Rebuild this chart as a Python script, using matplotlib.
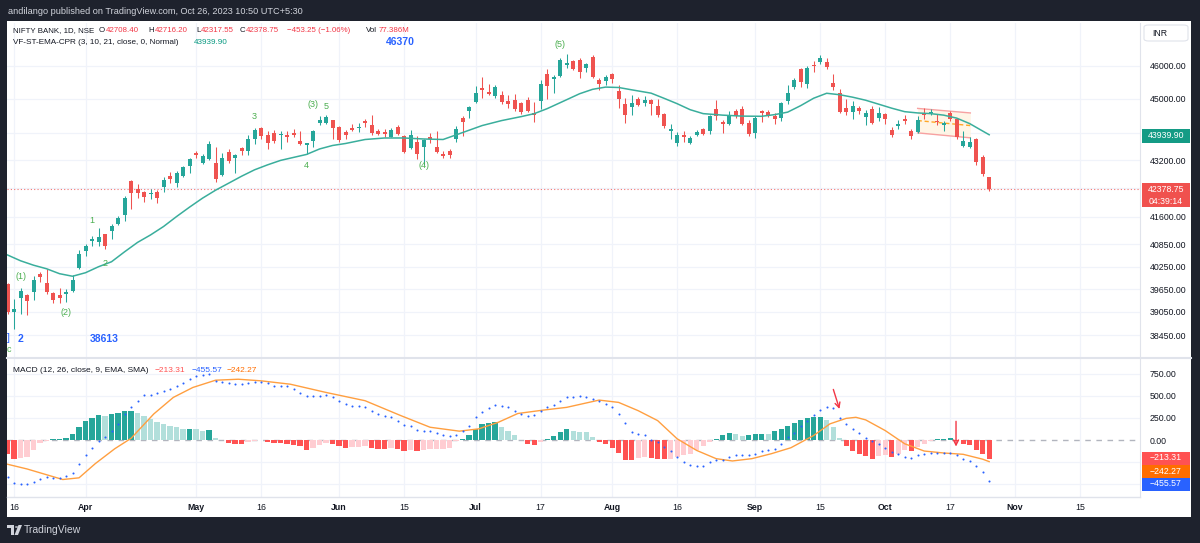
import matplotlib
matplotlib.use("Agg")
import matplotlib.pyplot as plt
from matplotlib.patches import Rectangle, FancyBboxPatch, Circle, Polygon
import numpy as np

plt.rcParams['font.family'] = ['Liberation Sans', 'DejaVu Sans']

# ---- daily candles, NIFTY BANK, 15 Mar 2023 .. 26 Oct 2023 ----
opens = [39790, 39050, 39418, 39504, 39575, 40057, 39819, 39557, 39487, 39530,
         39590, 40208, 40680, 40950, 40923, 41122, 41214, 41396, 41653, 42610,
         42394, 42283, 42228, 42283, 42450, 42750, 42544, 42752, 43035, 43397,
         43130, 43225, 43111, 42780, 43435, 43273, 43540, 43454, 43801, 44140,
         43946, 43995, 43918, 43926, 43995, 43753, 43627, 43753, 44297, 44297,
         44365, 44170, 44014, 44130, 44130, 44356, 44238, 44053, 44033, 43880,
         44170, 43898, 43560, 43734, 43590, 43880, 43580, 43388, 43464, 43801,
         44434, 44630, 44917, 45314, 45197, 45076, 45126, 44946, 44976, 44877,
         44976, 44582, 44926, 45758, 45616, 45697, 46040, 46163, 46184, 45950,
         46286, 45575, 45545, 45748, 45228, 44858, 44749, 44997, 44877, 44976,
         44799, 44562, 44063, 43705, 43926, 43705, 43946, 44121, 44063, 44709,
         44306, 44267, 44650, 44700, 44297, 43995, 44630, 44611, 44502, 44434,
         44946, 45344, 45908, 45449, 46030, 46112, 46112, 45494, 45179, 44729,
         44611, 44729, 44453, 44700, 44434, 44562, 44092, 44209, 44395, 44063,
         44014, 44582, 44572, 44346, 44219, 44582, 44414, 43608, 43580, 43830,
         43300, 42708.40]
highs = [39820, 39400, 39690, 39530, 39996, 40090, 40190, 39583, 39688, 39643,
         40013, 40690, 40860, 41086, 41287, 41130, 41415, 41616, 42188, 42630,
         42525, 42320, 42375, 42347, 42733, 42875, 42884, 43035, 43273, 43475,
         43368, 43743, 43590, 43417, 43532, 43368, 43590, 43918, 44140, 44165,
         44043, 44092, 44043, 44043, 44112, 44043, 43705, 44092, 44502, 44532,
         44385, 44190, 44092, 44267, 44297, 44395, 44512, 44112, 44112, 44130,
         44238, 43918, 44072, 43898, 43801, 44000, 44043, 43464, 43512, 44190,
         44502, 44797, 45375, 45657, 45449, 45425, 45228, 45126, 45147, 44917,
         45056, 44917, 45556, 45900, 45727, 46236, 46370, 46184, 46236, 46082,
         46338, 45630, 45727, 45778, 45405, 45027, 45126, 45047, 45097, 44997,
         44997, 44591, 44267, 44024, 44063, 43898, 44092, 44150, 44532, 44976,
         44385, 44630, 44700, 44779, 44385, 44483, 44660, 44670, 44582, 44907,
         45405, 45646, 45930, 46010, 46163, 46338, 46255, 45748, 45304, 45007,
         44946, 44779, 44679, 44779, 44769, 44591, 44160, 44385, 44512, 44121,
         44483, 44729, 44700, 44542, 44356, 44630, 44434, 44063, 43868, 43850,
         43349, 42716.20]
lows = [38990, 38613, 38985, 38960, 39356, 39838, 39530, 39296, 39296, 39314,
        39583, 40190, 40545, 40800, 40800, 40725, 40996, 41378, 41495, 41818,
        42115, 42020, 42096, 41977, 42283, 42563, 42440, 42733, 42827, 43273,
        43082, 43205, 42582, 42752, 43130, 42827, 43340, 43340, 43656, 43801,
        43512, 43685, 43532, 43723, 43880, 43627, 43368, 43590, 44238, 44248,
        43820, 43723, 43820, 44043, 44014, 44170, 43937, 43918, 43880, 43860,
        43946, 43397, 43512, 43244, 43062, 43705, 43397, 43273, 43273, 43723,
        43898, 44434, 44877, 45027, 45126, 45027, 44858, 44729, 44630, 44562,
        44601, 44316, 44700, 44997, 45179, 45676, 45930, 45878, 45630, 45809,
        45630, 45274, 45405, 45474, 44729, 44297, 44512, 44779, 44779, 44532,
        44453, 44140, 43801, 43608, 43734, 43656, 43898, 43926, 43966, 44385,
        43995, 44219, 44434, 44219, 43898, 43850, 44316, 44453, 44248, 44356,
        44849, 45304, 45344, 45324, 45827, 46051, 45908, 45274, 44582, 44512,
        44414, 44542, 44219, 44258, 44356, 44267, 43868, 44121, 44267, 43801,
        43995, 44414, 44512, 44219, 44063, 44336, 43830, 43580, 43560, 43062,
        42752, 42317.55]
closes = [39050, 39120, 39590, 39348, 39880, 39983, 39575, 39366, 39418, 39575,
          39898, 40600, 40815, 40996, 41042, 40815, 41360, 41560, 42130, 42255,
          42255, 42143, 42263, 42115, 42630, 42676, 42846, 43006, 43225, 43340,
          43320, 43676, 42657, 43273, 43177, 43340, 43464, 43801, 44092, 43898,
          43705, 43753, 43976, 43880, 43937, 43656, 43685, 44043, 44365, 44463,
          44140, 43782, 43937, 44092, 44170, 44297, 43995, 43976, 43956, 44092,
          43976, 43435, 43926, 43368, 43772, 43820, 43435, 43320, 43349, 44121,
          44317, 44760, 45179, 45274, 45149, 45344, 44897, 44849, 44700, 44601,
          44630, 44532, 45447, 45395, 45676, 46184, 46082, 45900, 45827, 46061,
          45676, 45454, 45676, 45596, 44997, 44512, 44877, 44828, 44976, 44858,
          44532, 44190, 44092, 43946, 43888, 43850, 44014, 43966, 44483, 44483,
          44248, 44512, 44502, 44248, 43966, 44434, 44572, 44512, 44400, 44877,
          45179, 45585, 45524, 45930, 45990, 46236, 45959, 45344, 44611, 44611,
          44779, 44630, 44582, 44277, 44582, 44405, 43946, 44267, 44356, 43898,
          44365, 44512, 44611, 44306, 44287, 44414, 43868, 43753, 43734, 43159,
          42799, 42378.75]

# 21 EMA of the VF-ST-EMA-CPR study (read at these bars)
ema_idx = [0, 2, 4, 6, 8, 10, 12, 14, 16, 18, 20, 22, 24, 26, 28, 30, 32, 34, 36,
           38, 40, 42, 44, 46, 48, 50, 52, 55, 58, 61, 64, 67, 70, 73, 76, 79,
           81, 83, 86, 88, 90, 92, 94, 96, 99, 101, 103, 105, 107, 110, 113, 116,
           118, 120, 122, 124, 126, 128, 130, 132, 134, 136, 138, 140, 142, 144,
           146, 148, 150, 151]
ema_val = [40560, 40404, 40285, 40190, 40058, 39990, 40084, 40244, 40378, 40645,
           40901, 41105, 41336, 41611, 41873, 42124, 42347, 42544, 42743, 42926,
           43068, 43196, 43282, 43368, 43526, 43627, 43685, 43801, 43845, 43845,
           43816, 43801, 44004, 44209, 44356, 44473, 44560, 44709, 44976, 45156,
           45289, 45356, 45344, 45274, 45173, 45018, 44858, 44679, 44562, 44517,
           44488, 44483, 44532, 44606, 44799, 45021, 45170, 45126, 45052, 44961,
           44843, 44724, 44620, 44582, 44562, 44517, 44429, 44267, 44048, 43939.90]

# wave counts drawn by the study
wave_idx = [2, 9, 13, 15, 38, 46, 47, 49, 64, 85]
wave_price = [39970, 39037, 41506, 40324, 44483, 43054, 44828, 44779, 43062, 46646]
wave_text = ['(1)', '(2)', '1', '2', '3', '4', '(3)', '5', '(4)', '(5)']

# channel drawn on the chart (bar index, price)
chan_x = [140, 148.1]
chan_upper = [44717, 44582]
chan_mid = [44356, 44209]
chan_lower = [43995, 43850]

# MACD (12, 26, 9)
macd_hist = [-153, -213, -198, -190, -116, -34, -10, 7, 15, 26,
             71, 153, 213, 250, 283, 276, 295, 300, 325, 332,
             306, 276, 239, 201, 183, 164, 145, 127, 130, 127,
             108, 116, 26, 4, -34, -41, -48, -26, -11, -4,
             -22, -30, -34, -41, -56, -71, -108, -86, -60, -34,
             -41, -67, -86, -78, -75, -71, -86, -97, -104, -86,
             -97, -123, -108, -127, -108, -100, -97, -95, -86, -11,
             11, 63, 127, 183, 194, 201, 153, 108, 52, 4,
             -41, -60, -22, 7, 41, 90, 127, 108, 97, 86,
             34, -20, -41, -86, -145, -220, -225, -201, -190, -198,
             -209, -216, -209, -190, -172, -153, -116, -71, -25, 15,
             52, 78, 70, 45, 52, 71, 72, 70, 100, 127,
             164, 190, 228, 250, 255, 262, 228, 153, 26, -71,
             -123, -160, -183, -213, -183, -172, -190, -160, -112, -125,
             -78, -41, -10, 7, 8, 26, -15, -41, -60, -116,
             -153, -213.31]
macd_line = [-421, -481, -489, -500, -470, -433, -414, -425, -425, -407,
             -369, -265, -172, -86, -11, 34, 108, 183, 295, 369,
             444, 507, 511, 526, 556, 574, 612, 638, 686, 724,
             735, 742, 668, 656, 642, 630, 630, 638, 660, 660,
             638, 608, 608, 608, 574, 526, 496, 496, 500, 511,
             481, 436, 407, 388, 384, 369, 332, 295, 276, 265,
             220, 175, 160, 119, 108, 101, 82, 63, 41, 63,
             108, 164, 257, 313, 358, 395, 388, 369, 332, 295,
             276, 287, 332, 369, 395, 444, 481, 489, 492, 489,
             462, 444, 407, 369, 295, 190, 97, 71, 63, 4,
             -22, -78, -123, -190, -246, -276, -295, -295, -246, -228,
             -220, -190, -172, -172, -172, -160, -123, -108, -97, -48,
             34, 78, 157, 220, 283, 339, 369, 362, 250, 183,
             127, 82, 26, -15, -41, -86, -134, -160, -190, -198,
             -172, -153, -145, -145, -142, -142, -172, -209, -235, -295,
             -358, -455.57]
sig_idx = [0, 3, 6, 8.5, 11, 13.5, 16.5, 19, 22.5, 25.5, 28.5, 32, 35.5, 39, 43.5,
           49, 55, 60.5, 65, 69.5, 72.5, 75.5, 78.5, 82.5, 86, 91, 94, 97, 100,
           103, 106, 109, 111.5, 114.5, 117.5, 120.5, 124, 126.5, 129, 130.5, 132,
           135, 138, 141, 144, 147, 150, 151]
sig_val = [-272, -325, -390, -444, -425, -265, -97, 20, 295, 481, 593, 675, 686,
           668, 630, 537, 444, 276, 145, 101, 127, 201, 300, 339, 369, 451, 425,
           332, 220, 15, -116, -209, -235, -209, -153, -86, 52, 183, 245, 257,
           228, 108, -41, -123, -145, -160, -215, -242.27]

# axes ticks
time_pos = [1, 12, 29, 39, 51, 61, 72, 82, 93, 103, 115, 125, 135, 145, 155, 165]
time_lab = ['16', 'Apr', 'May', '16', 'Jun', '15', 'Jul', '17', 'Aug', '16', 'Sep',
            '15', 'Oct', '17', 'Nov', '15']
price_grid = [46000, 45000, 44000, 43200, 42400, 41600, 40850, 40250, 39650, 39050, 38450]
price_lab = [46000, 45000, 43200, 41600, 40850, 40250, 39650, 39050, 38450]
macd_grid = [750, 500, 250, -250, -500]
macd_lab = [750, 500, 250, 0]

W, H = 1200, 543
fig = plt.figure(figsize=(12, 5.43), dpi=100, facecolor='#1e222d')


def fx(px):
    return px / W


def fy(py):
    return 1 - py / H


def box(x0, y0, x1, y1, fc, z=5):
    fig.patches.append(Rectangle((fx(x0), fy(y1)), fx(x1) - fx(x0), fy(y0) - fy(y1),
                                 transform=fig.transFigure, fc=fc, ec='none', lw=0, zorder=z))


box(7, 21, 1191, 517, 'white', z=-5)

ax = fig.add_axes([fx(7), fy(357), (1140 - 7) / W, (357 - 23) / H])
axm = fig.add_axes([fx(7), fy(497), (1140 - 7) / W, (497 - 359) / H], sharex=ax)
for a in (ax, axm):
    a.set_facecolor('none')
    for s in a.spines.values():
        s.set_visible(False)
    a.spines['right'].set_visible(True)
    a.spines['right'].set_color('#e0e3eb')
    a.yaxis.tick_right()
    a.tick_params(axis='both', length=0, labelsize=6.3, labelcolor='#131722')
    for p in time_pos:
        a.axvline(p, color='#f0f3fa', lw=0.9, zorder=0)

# ---- price pane ----
n = len(closes)
x = np.arange(n)
o = np.array(opens)
c = np.array(closes)
up = c >= o
col = np.where(up, '#26a69a', '#ef5350')
ax.set_yscale('log')
ax.set_ylim(37897, 47333)
ax.set_xlim(-0.08, 174.2)
for g in price_grid:
    ax.axhline(g, color='#f0f3fa', lw=0.9, zorder=0)
ax.axhline(closes[-1], color='#ef5350', lw=0.8, ls=(0, (1, 2)), alpha=0.8, zorder=1)

# channel
ax.fill_between(chan_x, chan_lower, chan_upper, color='#fff3e0', alpha=0.8, zorder=1, lw=0)
ax.plot(chan_x, chan_upper, color='#f7a1a1', lw=1, zorder=1)
ax.plot(chan_x, chan_lower, color='#f7a1a1', lw=1, zorder=1)
ax.plot(chan_x, chan_mid, color='#ffa726', lw=1, ls=(0, (3, 2)), zorder=1)

ax.vlines(x, lows, highs, colors=col, lw=0.75, zorder=2)
lo = np.minimum(o, c)
hgt = np.maximum(np.abs(c - o), lo * 0.0008)
ax.bar(x, hgt, bottom=lo, width=0.62, color=col, lw=0, zorder=3)
ax.plot(ema_idx, ema_val, color='#3aae9c', lw=1.1, zorder=4)

for wi, wp, wt in zip(wave_idx, wave_price, wave_text):
    ax.text(wi, wp, wt, color='#4caf50', fontsize=6.5, ha='center', va='center', zorder=5)

ax.set_yticks(price_lab)
ax.set_yticklabels([f'{v:.2f}' for v in price_lab])
ax.yaxis.set_minor_locator(matplotlib.ticker.NullLocator())
ax.tick_params(axis='y', pad=7)
ax.tick_params(axis='x', labelbottom=False)

# ---- MACD pane ----
axm.set_ylim(-641, 914)
for g in macd_grid:
    axm.axhline(g, color='#f0f3fa', lw=0.9, zorder=0)
axm.axhline(0, color='#b2b5be', lw=1, ls=(0, (4, 4)), zorder=1)
hcol = []
prev = 0
for hv in macd_hist:
    if hv >= 0:
        hcol.append('#26a69a' if hv > prev else '#b2dfdb')
    else:
        hcol.append('#ff5252' if hv < prev else '#ffcdd2')
    prev = hv
axm.bar(x, macd_hist, width=0.8, color=hcol, lw=0, zorder=2)
axm.plot(sig_idx, sig_val, color='#ff9f40', lw=1.0, zorder=3)
axm.scatter(x, macd_line, s=2.2, color='#2962ff', lw=0, zorder=4)
axm.annotate('', xy=(128.1, 321), xytext=(126.9, 601),
             arrowprops=dict(arrowstyle='->', color='#f23645', lw=1, mutation_scale=9))
axm.annotate('', xy=(145.9, -104), xytext=(145.9, 243),
             arrowprops=dict(arrowstyle='->', color='#f23645', lw=1, mutation_scale=9))
axm.set_yticks(macd_lab)
axm.set_yticklabels([f'{v:.2f}' for v in macd_lab])
axm.tick_params(axis='y', pad=7)
axm.set_xticks(time_pos)
axm.set_xticklabels(time_lab)
axm.tick_params(axis='x', pad=4)
for t in axm.get_xticklabels():
    if t.get_text().isalpha():
        t.set_fontweight('bold')

# pane separators
fig.add_artist(plt.Line2D([fx(7), fx(1191)], [fy(357.5), fy(357.5)], color='#e0e3eb', lw=1.5))
fig.add_artist(plt.Line2D([fx(7), fx(1140)], [fy(497), fy(497)], color='#e0e3eb', lw=1))

# ---- texts ----
fig.text(fx(8), fy(11), 'andilango published on TradingView.com, Oct 26, 2023 10:50 UTC+5:30',
         color='#d1d4dc', fontsize=6.6, va='center')
dark = '#131722'
red = '#f23645'
row1 = [(13, 'NIFTY BANK, 1D, NSE', dark), (99, 'O', dark), (106, '42708.40', red),
        (148, 'H', dark), (155, '42716.20', red), (196, 'L', dark), (201, '42317.55', red),
        (240, 'C', dark), (246, '42378.75', red), (287, '−453.25 (−1.06%)', red),
        (366, 'Vol', dark), (379, '77.386M', red)]
for px_, s, cc in row1:
    fig.text(fx(px_), fy(31), s, color=cc, fontsize=5.7, va='center')
fig.text(fx(13), fy(43), 'VF-ST-EMA-CPR (3, 10, 21, close, 0, Normal)', color=dark,
         fontsize=5.9, va='center')
fig.text(fx(194), fy(43), '43939.90', color='#089981', fontsize=5.9, va='center')
fig.text(fx(400), fy(42), '46370', color='#2962ff', fontsize=7.5, fontweight='bold',
         ha='center', va='center')
fig.text(fx(104), fy(339), '38613', color='#2962ff', fontsize=7.5, fontweight='bold',
         ha='center', va='center')
fig.text(fx(20), fy(339), '2', color='#2962ff', fontsize=7.5, fontweight='bold',
         ha='center', va='center')
fig.text(fx(8), fy(338), ']', color='#2962ff', fontsize=7.5, ha='center', va='center')
fig.text(fx(8.5), fy(349), 'c', color='#4caf50', fontsize=6.5, ha='center', va='center')

fig.text(fx(13), fy(371), 'MACD (12, 26, close, 9, EMA, SMA)', color=dark, fontsize=6.0,
         va='center')
fig.text(fx(155), fy(371), '−213.31', color='#ff5252', fontsize=6.0, va='center')
fig.text(fx(192), fy(371), '−455.57', color='#2962ff', fontsize=6.0, va='center')
fig.text(fx(227), fy(371), '−242.27', color='#ff6d00', fontsize=6.0, va='center')

# right-scale value boxes
fig.patches.append(FancyBboxPatch((fx(1144), fy(41)), fx(1188) - fx(1144), fy(25) - fy(41),
                                  boxstyle='round,pad=0,rounding_size=0.004',
                                  transform=fig.transFigure, fc='white', ec='#e0e3eb', lw=0.8))
fig.text(fx(1160), fy(33), 'INR', color=dark, fontsize=6.3, ha='center', va='center')


def valbox(y0, y1, fc, lines):
    box(1142, y0, 1190, y1, fc)
    step = (y1 - y0) / len(lines)
    for k, s in enumerate(lines):
        fig.text(fx(1166), fy(y0 + step * (k + 0.5)), s, color='white', fontsize=6.3,
                 ha='center', va='center', zorder=6)


valbox(129, 143, '#149b85', ['43939.90'])
valbox(183, 207, '#f0514e', ['42378.75', '04:39:14'])
valbox(451.5, 464.5, '#ff5252', ['−213.31'])
valbox(464.5, 477.5, '#ff6d00', ['−242.27'])
valbox(477.5, 490.5, '#2962ff', ['−455.57'])

# footer logo
fig.patches.append(Rectangle((fx(7), fy(528)), fx(14) - fx(7), fy(525) - fy(528),
                             transform=fig.transFigure, fc='#d1d4dc', ec='none'))
fig.patches.append(Rectangle((fx(10.5), fy(535)), fx(14) - fx(10.5), fy(528) - fy(535),
                             transform=fig.transFigure, fc='#d1d4dc', ec='none'))
fig.patches.append(Circle((fx(16.5), fy(527)), 1.6 / W, transform=fig.transFigure,
                          fc='#d1d4dc', ec='none'))
fig.patches.append(Polygon([(fx(18.5), fy(525)), (fx(22), fy(525)), (fx(18), fy(535)),
                            (fx(14.5), fy(535))], closed=True, transform=fig.transFigure,
                           fc='#d1d4dc', ec='none'))
fig.text(fx(24), fy(530), 'TradingView', color='#d1d4dc', fontsize=7.5, va='center')

fig.savefig('out.png', dpi=100, facecolor=fig.get_facecolor())
